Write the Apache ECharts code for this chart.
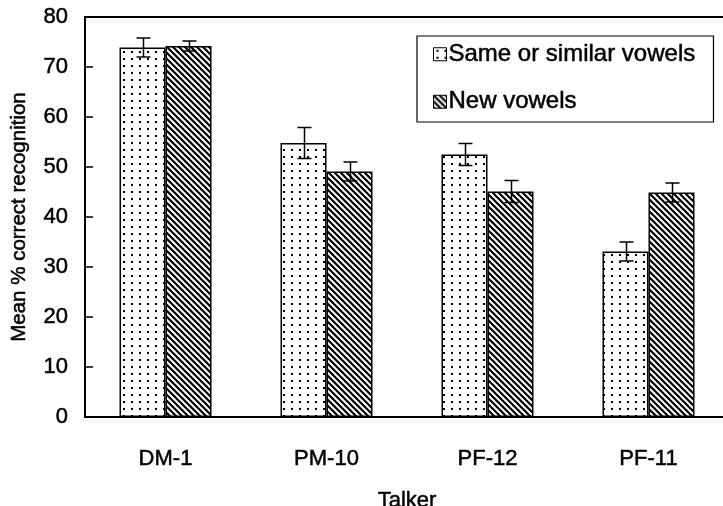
<!DOCTYPE html>
<html>
<head>
<meta charset="utf-8">
<script src="https://cdn.jsdelivr.net/npm/echarts@6/dist/echarts.min.js"></script>
<style>
  html, body { margin: 0; padding: 0; background: #fff; }
  #chart { width: 723px; height: 506px; }
</style>
</head>
<body>
<div id="chart"></div>
<script>
// Mean % correct recognition by talker, with standard-error bars
const talkers = ['DM-1', 'PM-10', 'PF-12', 'PF-11'];
const seriesNames = ['Same or similar vowels', 'New vowels'];
const sameVowels = [73.9, 54.8, 52.5, 33.1];
const sameErr = [1.9, 3.1, 2.2, 1.9];
const newVowels = [74.2, 49.1, 45.1, 44.9];
const newErr = [1.0, 1.9, 2.2, 1.9];
const yTicks = { min: 0, max: 80, interval: 10 };

const FONT = "'Liberation Sans', Arial, Helvetica, sans-serif";
const BAR_W = 46;
// slightly heavier glyphs via a thin outline in the text colour
const TEXT = { fontFamily: FONT, color: '#000', textBorderColor: '#000', textBorderWidth: 0.5 };

// Fill patterns: stippled dots and back-slash hatching
function dotPattern() {
  const c = document.createElement('canvas');
  c.width = 8; c.height = 7;
  const g = c.getContext('2d');
  g.fillStyle = '#fff'; g.fillRect(0, 0, 8, 7);
  g.fillStyle = '#000';
  g.fillRect(3, 2, 2, 2);
  return c;
}
function hatchPattern() {
  const s = 6;
  const c = document.createElement('canvas');
  c.width = s; c.height = s;
  const g = c.getContext('2d');
  g.fillStyle = '#fff'; g.fillRect(0, 0, s, s);
  g.strokeStyle = '#000';
  g.lineWidth = 2.2;
  g.beginPath();
  g.moveTo(-1, -1); g.lineTo(s + 1, s + 1);
  g.moveTo(-1, s - 1); g.lineTo(1, s + 1);
  g.moveTo(s - 1, -1); g.lineTo(s + 1, 1);
  g.stroke();
  return c;
}
const dotFill = { image: dotPattern(), repeat: 'repeat' };
const hatchFill = { image: hatchPattern(), repeat: 'repeat' };

function errData(vals, errs, side) {
  return vals.map((v, i) => [i, v - errs[i], v + errs[i], side]);
}

function renderErr(params, api) {
  const i = api.value(0);
  const side = api.value(3);
  const lo = api.coord([i, api.value(1)]);
  const hi = api.coord([i, api.value(2)]);
  const x = Math.round(lo[0] + side * BAR_W / 2) + 0.5;
  const cap = 7;
  const style = { stroke: '#000', lineWidth: 1.5, fill: null };
  return {
    type: 'group',
    children: [
      { type: 'line', shape: { x1: x, y1: lo[1], x2: x, y2: hi[1] }, style },
      { type: 'line', shape: { x1: x - cap, y1: hi[1], x2: x + cap, y2: hi[1] }, style },
      { type: 'line', shape: { x1: x - cap, y1: lo[1], x2: x + cap, y2: lo[1] }, style }
    ]
  };
}

const chart = echarts.init(document.getElementById('chart'), null, { renderer: 'canvas' });
chart.setOption({
  animation: false,
  backgroundColor: '#fff',
  textStyle: { fontFamily: FONT, color: '#000' },
  grid: { left: 85, top: 17, width: 644, height: 400, containLabel: false, outerBoundsMode: 'none' },
  legend: {
    orient: 'vertical',
    left: 417, top: 36,
    padding: [6, 18, 8, 16],
    itemGap: 23,
    itemWidth: 13, itemHeight: 13,
    borderColor: '#000', borderWidth: 1.2,
    backgroundColor: '#fff',
    textStyle: Object.assign({ fontSize: 24, padding: [0, 0, 0, -3] }, TEXT),
    data: [
      { name: seriesNames[0], icon: 'rect', itemStyle: { color: dotFill, borderColor: '#000', borderWidth: 1 } },
      { name: seriesNames[1], icon: 'rect', itemStyle: { color: hatchFill, borderColor: '#000', borderWidth: 1 } }
    ]
  },
  xAxis: [{
    type: 'category',
    data: talkers,
    name: 'Talker',
    nameLocation: 'middle',
    nameGap: 73,
    nameTextStyle: Object.assign({ fontSize: 22 }, TEXT),
    axisLine: { lineStyle: { color: '#000', width: 2 } },
    axisTick: { inside: true, length: 7, lineStyle: { color: '#000', width: 1.5 } },
    axisLabel: Object.assign({ fontSize: 22, margin: 31 }, TEXT),
    splitLine: { show: false }
  }, {
    type: 'category',
    data: talkers,
    position: 'top',
    axisLine: { lineStyle: { color: '#000', width: 2 } },
    axisTick: { show: false },
    axisLabel: { show: false },
    splitLine: { show: false }
  }],
  yAxis: {
    type: 'value',
    min: yTicks.min, max: yTicks.max, interval: yTicks.interval,
    name: 'Mean % correct recognition',
    nameLocation: 'middle',
    nameGap: 55,
    nameTextStyle: Object.assign({ fontSize: 20.5 }, TEXT),
    axisLine: { show: true, lineStyle: { color: '#000', width: 2 } },
    axisTick: { show: true, inside: true, length: 8, lineStyle: { color: '#000', width: 1.5 } },
    axisLabel: Object.assign({ fontSize: 22, margin: 17 }, TEXT),
    splitLine: { show: false }
  },
  series: [
    {
      name: seriesNames[0], type: 'bar', data: sameVowels,
      barWidth: BAR_W, barGap: '0%',
      itemStyle: { color: dotFill, borderColor: '#000', borderWidth: 1.5 }
    },
    {
      name: seriesNames[1], type: 'bar', data: newVowels,
      barWidth: BAR_W, barGap: '0%',
      itemStyle: { color: hatchFill, borderColor: '#000', borderWidth: 1.5 }
    },
    {
      type: 'custom', renderItem: renderErr, z: 10,
      encode: { x: 0, y: [1, 2] },
      data: errData(sameVowels, sameErr, -1)
    },
    {
      type: 'custom', renderItem: renderErr, z: 10,
      encode: { x: 0, y: [1, 2] },
      data: errData(newVowels, newErr, 1)
    }
  ]
});
</script>
</body>
</html>
